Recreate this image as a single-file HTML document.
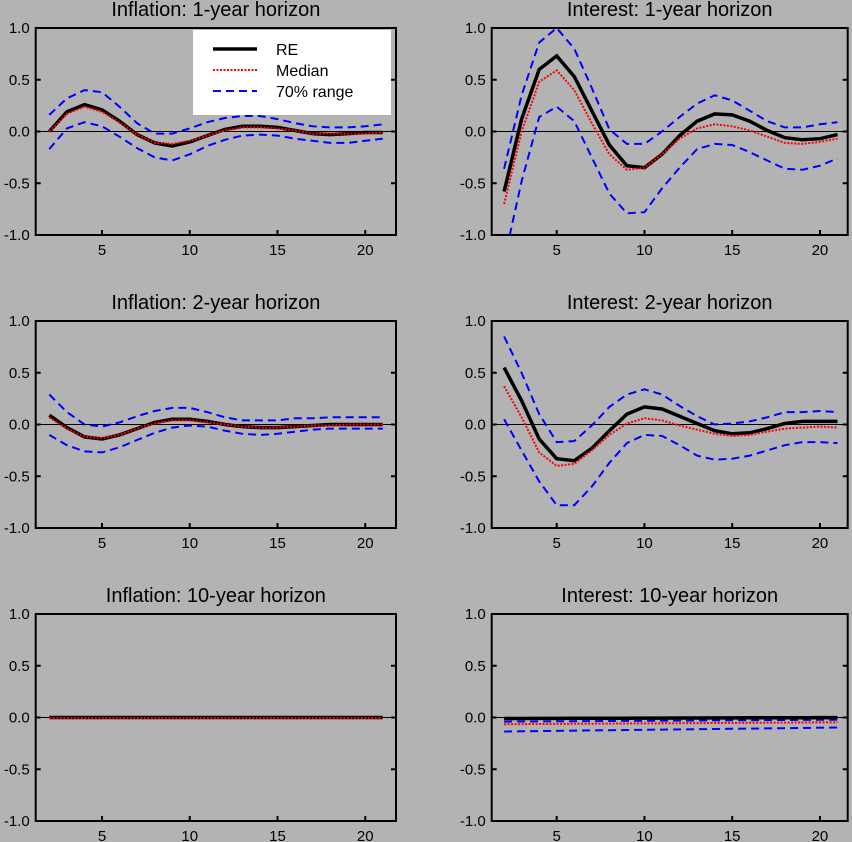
<!DOCTYPE html>
<html><head><meta charset="utf-8"><style>
html,body{margin:0;padding:0;background:#b3b3b3;}
svg{display:block;font-family:"Liberation Sans",sans-serif;}
</style></head><body>
<svg id="s" width="852" height="842" xmlns="http://www.w3.org/2000/svg"></svg>
<script>
const P=[
{t:"Inflation: 1-year horizon",L:35.7,R:396,T:28,
 re:[0,0.19,0.26,0.21,0.1,-0.03,-0.11,-0.14,-0.1,-0.04,0.02,0.05,0.05,0.04,0.01,-0.02,-0.03,-0.02,-0.01,-0.01],
 md:[0,0.17,0.24,0.19,0.09,-0.03,-0.11,-0.12,-0.09,-0.04,0.01,0.04,0.04,0.03,0.01,-0.02,-0.02,-0.02,-0.02,-0.01],
 up:[0.16,0.32,0.4,0.38,0.24,0.08,-0.02,-0.02,0.03,0.09,0.13,0.15,0.15,0.12,0.08,0.05,0.04,0.04,0.05,0.07],
 lo:[-0.17,0.03,0.09,0.05,-0.05,-0.16,-0.25,-0.28,-0.22,-0.14,-0.08,-0.04,-0.03,-0.04,-0.07,-0.09,-0.11,-0.11,-0.09,-0.07],leg:1},
{t:"Interest: 1-year horizon",L:491.7,R:847.7,T:28,
 re:[-0.58,0.12,0.6,0.73,0.53,0.2,-0.13,-0.33,-0.35,-0.22,-0.04,0.1,0.17,0.16,0.1,0.01,-0.06,-0.08,-0.07,-0.03],
 md:[-0.7,0.0,0.48,0.59,0.4,0.08,-0.22,-0.37,-0.35,-0.22,-0.07,0.03,0.07,0.05,0.01,-0.05,-0.11,-0.12,-0.10,-0.07],
 up:[-0.36,0.35,0.86,1.0,0.8,0.42,0.02,-0.12,-0.12,0.0,0.14,0.27,0.35,0.3,0.2,0.1,0.04,0.04,0.07,0.09],
 lo:[-1.25,-0.48,0.14,0.24,0.1,-0.25,-0.6,-0.79,-0.78,-0.55,-0.35,-0.17,-0.12,-0.13,-0.2,-0.28,-0.36,-0.37,-0.33,-0.26]},
{t:"Inflation: 2-year horizon",L:35.7,R:396,T:321,
 re:[0.09,-0.03,-0.12,-0.14,-0.1,-0.04,0.02,0.05,0.05,0.03,0.0,-0.02,-0.03,-0.03,-0.02,-0.01,0,0,0,0],
 md:[0.07,-0.04,-0.12,-0.13,-0.1,-0.04,0.01,0.04,0.04,0.02,0,-0.02,-0.03,-0.03,-0.02,-0.01,-0.01,0,0,0],
 up:[0.29,0.12,0.0,-0.02,0.02,0.08,0.13,0.16,0.16,0.12,0.07,0.04,0.04,0.04,0.06,0.06,0.07,0.07,0.07,0.07],
 lo:[-0.1,-0.2,-0.26,-0.27,-0.22,-0.15,-0.08,-0.03,-0.01,-0.02,-0.06,-0.09,-0.1,-0.09,-0.07,-0.05,-0.04,-0.04,-0.04,-0.04]},
{t:"Interest: 2-year horizon",L:491.7,R:847.7,T:321,
 re:[0.55,0.23,-0.14,-0.33,-0.35,-0.23,-0.06,0.1,0.17,0.15,0.08,0.01,-0.06,-0.09,-0.08,-0.04,0.01,0.03,0.03,0.03],
 md:[0.37,0.07,-0.27,-0.4,-0.38,-0.25,-0.1,0.01,0.06,0.04,-0.01,-0.05,-0.09,-0.11,-0.1,-0.07,-0.04,-0.03,-0.02,-0.03],
 up:[0.85,0.5,0.1,-0.17,-0.16,-0.01,0.17,0.29,0.34,0.29,0.18,0.08,0.0,0.01,0.03,0.07,0.12,0.12,0.13,0.12],
 lo:[0.05,-0.25,-0.55,-0.78,-0.78,-0.6,-0.37,-0.18,-0.1,-0.11,-0.2,-0.3,-0.34,-0.33,-0.3,-0.25,-0.2,-0.17,-0.17,-0.18]},
{t:"Inflation: 10-year horizon",L:35.7,R:396,T:614,
 re:Array(20).fill(0),md:Array(20).fill(-0.005),up:Array(20).fill(0.005),lo:Array(20).fill(-0.005)},
{t:"Interest: 10-year horizon",L:491.7,R:847.7,T:614,
 re:Array.from({length:20},(_,i)=>-0.01+i*0.0005),
 md:Array.from({length:20},(_,i)=>-0.065+i*0.001),
 up:Array.from({length:20},(_,i)=>-0.04+i*0.001),
 lo:Array.from({length:20},(_,i)=>-0.135+i*0.002)}
];
let h="";
P.forEach((p,k)=>{
 const H=207,B=p.T+H,W=p.R-p.L;
 const x5=k%2?556.7:102, u=17.55;
 const X=v=>x5+(v-5)*u, Y=v=>p.T+(1-v)/2*H;
 h+=`<clipPath id="c${k}"><rect x="${p.L}" y="${p.T}" width="${W}" height="${H}"/></clipPath>`;
 h+=`<text x="${(p.L+p.R)/2}" y="${p.T-12}" font-size="20" text-anchor="middle">${p.t}</text>`;
 h+=`<line x1="${p.L}" x2="${p.R}" y1="${Y(0)}" y2="${Y(0)}" stroke="#000" stroke-width="1"/>`;
 [1,0.5,0,-0.5,-1].forEach(v=>{const y=Y(v);
  h+=`<text x="${p.L-6}" y="${y+5}" font-size="15" text-anchor="end">${v.toFixed(1)}</text>`;
  h+=`<line x1="${p.L}" x2="${p.L+5}" y1="${y}" y2="${y}" stroke="#000" stroke-width="2"/><line x1="${p.R-5}" x2="${p.R}" y1="${y}" y2="${y}" stroke="#000" stroke-width="2"/>`;});
 [5,10,15,20].forEach(v=>{const x=X(v);
  h+=`<text x="${x}" y="${B+20}" font-size="15" text-anchor="middle">${v}</text>`;
  h+=`<line x1="${x}" x2="${x}" y1="${B-5}" y2="${B}" stroke="#000" stroke-width="2"/>`;});
 const pts=a=>a.map((v,i)=>X(i+2).toFixed(1)+","+Y(v).toFixed(1)).join(" ");
 h+=`<g clip-path="url(#c${k})" fill="none">`;
 h+=`<polyline points="${pts(p.up)}" stroke="#0000ff" stroke-width="2" stroke-dasharray="8,5"/>`;
 h+=`<polyline points="${pts(p.lo)}" stroke="#0000ff" stroke-width="2" stroke-dasharray="8,5"/>`;
 h+=`<polyline points="${pts(p.re)}" stroke="#000" stroke-width="3.5"/>`;
 h+=`<polyline points="${pts(p.md)}" stroke="#ff0000" stroke-width="2" stroke-dasharray="2,1.5"/>`;
 h+=`</g>`;
 h+=`<rect x="${p.L}" y="${p.T}" width="${W}" height="${H}" fill="none" stroke="#000" stroke-width="2"/>`;
 if(p.leg){
  h+=`<rect x="193" y="30" width="198" height="85" fill="#fff"/>`;
  h+=`<line x1="213" x2="257" y1="49" y2="49" stroke="#000" stroke-width="3.5"/>`;
  h+=`<line x1="213" x2="257" y1="70" y2="70" stroke="#f00" stroke-width="2" stroke-dasharray="2,1.5"/>`;
  h+=`<line x1="213" x2="257" y1="91" y2="91" stroke="#00f" stroke-width="2" stroke-dasharray="8,5"/>`;
  h+=`<text x="276" y="55" font-size="16">RE</text><text x="276" y="76" font-size="16">Median</text><text x="276" y="97" font-size="16">70% range</text>`;
 }
});
document.getElementById("s").innerHTML=h;
</script>
</body></html>
